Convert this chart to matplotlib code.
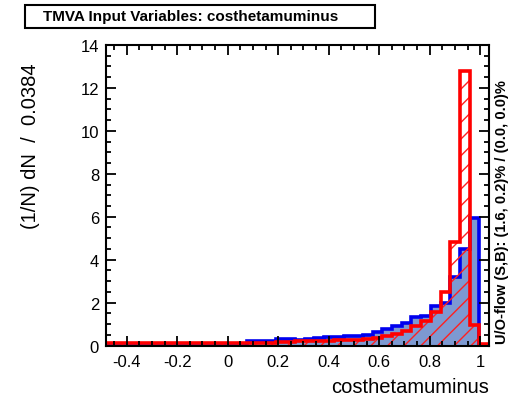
import numpy as np
import matplotlib
matplotlib.use("Agg")
import matplotlib.pyplot as plt
from matplotlib.ticker import MultipleLocator
from matplotlib.patches import Rectangle

plt.rcParams['font.family'] = ['Liberation Sans', 'DejaVu Sans']
plt.rcParams['hatch.linewidth'] = 1.0

# binning (40 bins of width 0.0384)
x_lo, x_hi = -0.501, 1.035
n_bins = 40
edges = np.linspace(x_lo, x_hi, n_bins + 1)

# signal (blue), one value per bin
signal = [0, 0, 0, 0, 0, 0, 0, 0, 0, 0,
          0, 0, 0, 0, 0, 0.2, 0.22, 0.2, 0.3, 0.32,
          0.28, 0.3, 0.35, 0.38, 0.42, 0.44, 0.45, 0.48, 0.64, 0.77,
          0.93, 1.05, 1.32, 1.39, 1.86, 2.0, 3.19, 4.48, 5.94, 0]

# background (red)
background = [0.14, 0.14, 0.14, 0.14, 0.14, 0.14, 0.14, 0.14, 0.14, 0.14,
              0.14, 0.14, 0.14, 0.14, 0.14, 0.14, 0.14, 0.14, 0.15, 0.16,
              0.2, 0.2, 0.21, 0.22, 0.27, 0.28, 0.28, 0.3, 0.33, 0.43,
              0.54, 0.69, 0.93, 1.16, 1.55, 2.49, 4.82, 12.8, 0.97, 0.05]

xtick_vals = [-0.4, -0.2, 0, 0.2, 0.4, 0.6, 0.8, 1.0]
xtick_text = ['-0.4', '-0.2', '0', '0.2', '0.4', '0.6', '0.8', '1']

fig = plt.figure(figsize=(5.16, 4.02), dpi=100)
ax = fig.add_axes([0.2054, 0.138, 0.7423, 0.7476])

# signal: filled + blue outline
ax.stairs(signal, edges, fill=True, facecolor='#7d99d1', edgecolor='none')
ax.stairs(signal, edges, color='#0000ee', linewidth=2.6)

# background: red hatch + red outline
ax.stairs(background, edges, fill=True, facecolor='none', edgecolor='#ff2020',
          hatch='//', linewidth=0)
ax.stairs(background, edges, color='#ff0000', linewidth=2.6)

ax.set_xlim(-0.482, x_hi)
ax.set_ylim(0, 14)

ax.xaxis.set_minor_locator(MultipleLocator(0.05))
ax.yaxis.set_major_locator(MultipleLocator(2))
ax.yaxis.set_minor_locator(MultipleLocator(0.5))
ax.set_xticks(xtick_vals)
ax.set_xticklabels(xtick_text)
ax.tick_params(which='both', direction='in', top=True, right=True, labelsize=12,
               width=1.3, color='black')
ax.tick_params(which='major', length=7)
ax.tick_params(which='minor', length=3.5)
ax.tick_params(axis='x', pad=6)
ax.tick_params(axis='y', pad=5)
for sp in ax.spines.values():
    sp.set_linewidth(1.5)

ax.set_ylabel('(1/N) dN  /  0.0384', fontsize=14.5)
ax.yaxis.set_label_coords(-0.172, 0.667)
ax.set_xlabel('costhetamuminus', fontsize=14.5, ha='right')
ax.xaxis.set_label_coords(1.0, -0.105)

# title box
fig.add_artist(Rectangle((0.0484, 0.9279), 0.678, 0.0572, transform=fig.transFigure,
                         facecolor='white', edgecolor='black', linewidth=1.5))
fig.text(0.0833, 0.9565, 'TMVA Input Variables: costhetamuminus', fontsize=11,
         fontweight='bold', va='center', ha='left')

fig.text(0.973, 0.145, 'U/O-flow (S,B): (1.6, 0.2)% / (0.0, 0.0)%', fontsize=10.5,
         fontweight='bold', rotation=90, va='bottom', ha='center')

fig.savefig('out.png', dpi=100)
